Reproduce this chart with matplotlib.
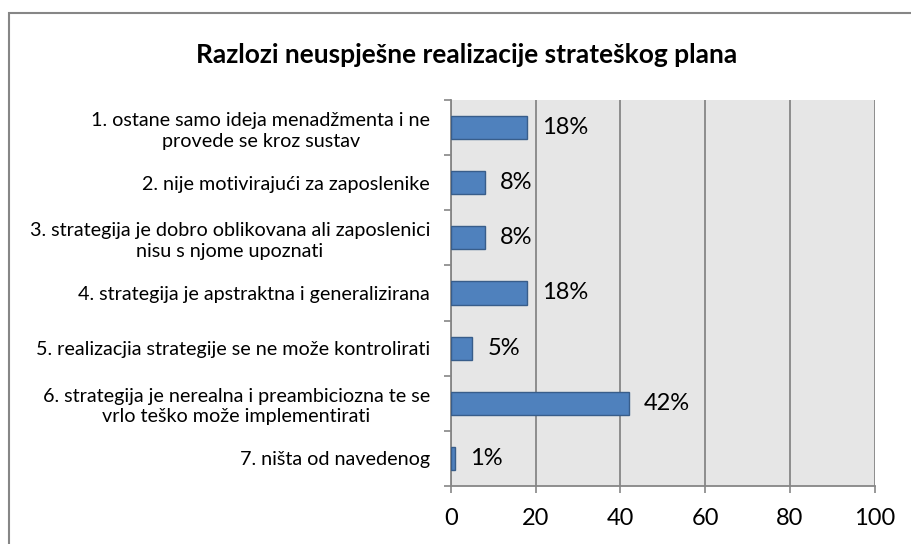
import numpy as np
import matplotlib
matplotlib.use('agg')
import matplotlib.pyplot as plt
from matplotlib.patches import Rectangle

# data
categories = ['1. ostane samo ideja menadžmenta i ne\nprovede se kroz sustav',
              '2. nije motivirajući za zaposlenike',
              '3. strategija je dobro oblikovana ali zaposlenici\nnisu s njome upoznati',
              '4. strategija je apstraktna i generalizirana',
              '5. realizacjia strategije se ne može kontrolirati',
              '6. strategija je nerealna i preambiciozna te se\nvrlo teško može implementirati',
              '7. ništa od navedenog']
values = [18, 8, 8, 18, 5, 42, 1]
xticks = [0, 20, 40, 60, 80, 100]
title = 'Razlozi neuspješne realizacije strateškog plana'

plt.rcParams['font.family'] = ['Lato', 'DejaVu Sans']
grey = '#868686'

fig = plt.figure(figsize=(9.12, 5.44), dpi=100)
ax = fig.add_axes([0.4945, 0.1066, 0.4645, 0.7096])

y = np.arange(len(values))
ax.barh(y, values, height=0.42, color='#4F81BD', edgecolor='#385D8A', linewidth=1, zorder=3)
for yi, v in zip(y, values):
    ax.annotate(str(v) + '%', (v, yi), xytext=(11, 0), textcoords='offset points',
                va='center', ha='left', fontsize=17, color='black')

ax.set_xlim(0, 100)
ax.set_ylim(len(values) - 0.5, -0.5)
ax.set_facecolor('#e6e6e6')
ax.set_xticks(xticks)
ax.set_xticklabels([str(t) for t in xticks], fontsize=17)
ax.set_yticks(y)
ax.set_yticklabels(categories, fontsize=14.2, multialignment='center', linespacing=1.25)
ax.set_yticks(np.arange(-0.5, len(values)), minor=True)
ax.tick_params(axis='y', which='major', length=0, pad=15)
ax.tick_params(axis='y', which='minor', length=5, width=1.2, color=grey, direction='out')
ax.tick_params(axis='x', length=5, width=1.2, color=grey, pad=11)
ax.grid(axis='x', color=grey, linewidth=1.3, zorder=1)
for s in ['top', 'right']:
    ax.spines[s].set_visible(False)
for s in ['left', 'bottom']:
    ax.spines[s].set_color(grey)
    ax.spines[s].set_linewidth(1.3)

fig.text(0.512, 0.898, title, ha='center', va='center', fontsize=19, fontweight='bold')

# chart border (right and bottom edges fall outside the picture)
fig.patches.append(Rectangle((9 / 912, -0.1), 1.05, 1.1 - 13 / 544, transform=fig.transFigure,
                             fill=False, edgecolor=grey, linewidth=1.5))

fig.savefig('out.png', dpi=100)
